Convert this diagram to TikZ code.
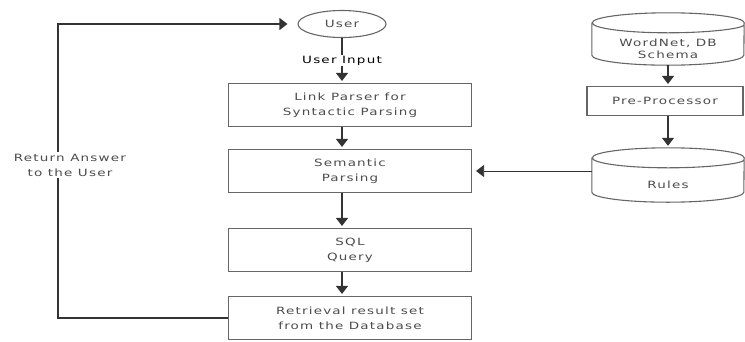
\documentclass[tikz,border=0pt]{standalone}
\usepackage{fontspec}
\setmainfont{DejaVu Sans}[FakeStretch=1.35,LetterSpace=12]
\usetikzlibrary{shapes.geometric,arrows.meta,positioning}

\tikzset{
  procbox/.style={rectangle, draw=black!60, line width=1.1pt, text=black!70,
    align=center, inner sep=0pt, minimum width=243pt, minimum height=43pt},
  dbstore/.style={rectangle, text=black!70, align=center, inner sep=0pt,
    minimum width=152pt},
  dbline/.style={draw=black!60, line width=1.1pt},
  flow/.style={draw=black!80, line width=1.1pt, -{Triangle[width=12pt,length=8pt]}}
}

\begin{document}
\begin{tikzpicture}[x=1pt,y=-1pt,shorten >=2pt,node distance=66pt,on grid,
    font=\fontsize{10}{15}\selectfont]
   \useasboundingbox (0,0) rectangle (745,341);
   % main column
   \node[ellipse,draw=black!60,line width=1.1pt,text=black!70,minimum width=88pt,minimum height=27pt,inner sep=0pt] (user) at (342,24) {User};
   \node[procbox] (linkparser) at (350,105) {Link Parser for\\Syntactic Parsing};
   \node[procbox] (semantic) [below=of linkparser] {Semantic\\Parsing};
   \node[procbox] (sql) [below=79pt of semantic] {SQL\\Query};
   \node[procbox] (retrieval) [below=68pt of sql] {Retrieval result set\\from the Database};
   % knowledge side (body of each store below its top rim)
   \node[dbstore,minimum height=32pt] (wordnet) at (668,49) {WordNet, DB\\[-3pt]Schema};
   \node[procbox,minimum width=156pt,minimum height=29pt] (preproc) at (665,101) {Pre-Processor};
   \node[dbstore,minimum height=34pt] (rules) at (668,185) {Rules};
   \foreach \db in {wordnet,rules}
     \draw[dbline] ([yshift=10pt]\db.north west) -- ([yshift=10pt]\db.south west)
       arc[start angle=180,end angle=360,x radius=76pt,y radius=10pt]
       -- ([yshift=10pt]\db.north east)
       arc[start angle=0,end angle=360,x radius=76pt,y radius=10pt];
   \coordinate (ret) at (58,0);
   \path
    (user) edge[flow] node[fill=white,inner sep=1pt] {User Input} (user |- linkparser.north)
    (user |- linkparser.south) edge[flow] (user |- semantic.north)
    (user |- semantic.south) edge[flow] (user |- sql.north)
    (user |- sql.south) edge[flow] (user |- retrieval.north)
    (wordnet) edge[flow] (wordnet |- preproc.north)
    (wordnet |- preproc.south) edge[flow] ([yshift=20pt]rules.north)
    (rules.west |- semantic.east) edge[flow,line width=0.8pt,shorten >=4pt] (semantic.east);
   \draw[flow,shorten >=10pt] (retrieval.west) -| (ret |- user.west) -- (user.west);
   \node[fill=white,align=center,text=black!70,inner sep=2pt] (answer) at (70,165) {Return Answer\\to the User};
\end{tikzpicture}
\end{document}
